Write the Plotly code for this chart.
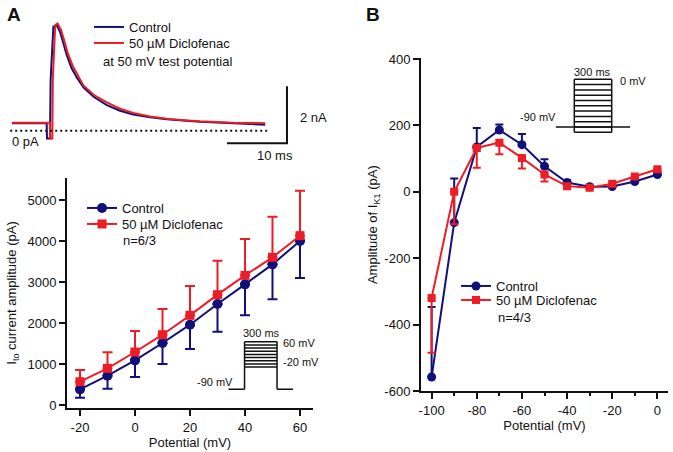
import plotly.graph_objects as go

W, H = 673, 452
FONT = "Liberation Sans, Arial, Helvetica, sans-serif"
BLUE = "#10107a"
RED = "#ee1c24"
INK = "#111111"

# ---------------- data ----------------
# Panel A top: example current traces at +50 mV (time in ms, current in nA)
trace_t_ctrl = [0, 5.78, 5.83, 6.33, 6.44, 6.9, 7.44, 8.0, 8.56, 9.11, 9.94, 10.8, 11.9, 13.6,
                15.8, 18.0, 20.2, 23.0, 25.8, 28.6, 31.3, 36.9, 42.2]
trace_i_ctrl = [0.26, 0.26, -0.27, -0.27, 1.8, 3.65, 3.71, 3.47, 3.07, 2.66, 2.19, 1.87, 1.52, 1.19,
                0.90, 0.70, 0.57, 0.47, 0.40, 0.35, 0.31, 0.26, 0.21]
trace_t_dic = [0, 6.3, 6.36, 6.72, 6.8, 7.2, 7.6, 8.15, 8.7, 9.25, 10.1, 10.9, 11.9, 13.6,
               15.8, 18.0, 20.2, 23.0, 25.8, 28.6, 31.3, 36.9, 42.2]
trace_i_dic = [0.28, 0.28, -0.27, -0.27, 1.8, 3.7, 3.76, 3.55, 3.16, 2.75, 2.28, 1.95, 1.59, 1.26,
               0.99, 0.77, 0.62, 0.50, 0.42, 0.37, 0.33, 0.28, 0.26]

# Panel A bottom: Ito amplitude vs potential
ito_v = [-20, -10, 0, 10, 20, 30, 40, 50, 60]
ito_ctrl = [382, 715, 1089, 1512, 1959, 2463, 2943, 3431, 4000]
ito_ctrl_err = [203, 317, 406, 512, 593, 674, 756, 854, 902]
ito_dic = [569, 894, 1293, 1715, 2187, 2691, 3163, 3602, 4130]
ito_dic_err = [285, 391, 512, 626, 715, 829, 886, 991, 1098]

# Panel B: IK1 amplitude vs potential
ik1_v = [-100, -90, -80, -70, -60, -50, -40, -30, -20, -10, 0]
ik1_ctrl = [-558, -93, 135, 186, 142, 77, 28, 15, 16, 31, 52]
ik1_ctrl_err = [211, 133, 57, 17, 32, 21, 7, 5, 5, 5, 5]
ik1_dic = [-320, 0, 132, 148, 102, 52, 17, 12, 24, 46, 68]
ik1_dic_err = [165, 98, 60, 35, 32, 21, 7, 5, 5, 5, 5]

# tick labels
itoA_xticks = [-20, 0, 20, 40, 60]
itoA_xlabels = ["-20", "0", "20", "40", "60"]
itoA_yticks = [0, 1000, 2000, 3000, 4000, 5000]
ik1_xticks = [-100, -80, -60, -40, -20, 0]
ik1_xlabels = ["-100", "-80", "-60", "-40", "-20", "0"]
ik1_xminor = [-90, -70, -50, -30, -10]
ik1_yticks = [-600, -400, -200, 0, 200, 400]
ik1_ylabels = ["-600", "-400", "-200", "0", "200", "400"]

# Voltage protocols (ms, mV)
protoA_levels = [-20, -10, 0, 10, 20, 30, 40, 50, 60]
protoB_levels = [-100, -90, -80, -70, -60, -50, -40, -30, -20, -10, 0]
hold_mV = -90
step_ms = 300
pre_ms = 150

# scale bar for the traces
bar_ms, bar_nA = 10, 2


def px(x):
    return x / W


def py(y):
    return 1 - y / H


fig = go.Figure()

# ---------- Panel A top: traces ----------
fig.add_trace(go.Scatter(x=trace_t_ctrl, y=trace_i_ctrl, mode="lines", name="Control",
                         line=dict(color=BLUE, width=2), xaxis="x3", yaxis="y3", legend="legend3"))
fig.add_trace(go.Scatter(x=trace_t_dic, y=trace_i_dic, mode="lines", name="50 µM Diclofenac",
                         line=dict(color=RED, width=2), xaxis="x3", yaxis="y3", legend="legend4"))
# zero current dotted line
fig.add_trace(go.Scatter(x=[trace_t_ctrl[0] - 0.3, trace_t_ctrl[-1] + 0.5], y=[0, 0], mode="lines",
                         line=dict(color=INK, width=2, dash="2px,3px"), showlegend=False,
                         xaxis="x3", yaxis="y3", hoverinfo="skip"))
# scale bar
bx0 = 45.83
by0 = -0.44
fig.add_trace(go.Scatter(x=[bx0 - bar_ms, bx0, bx0], y=[by0, by0, by0 + bar_nA], mode="lines",
                         line=dict(color=INK, width=2), showlegend=False,
                         xaxis="x3", yaxis="y3", hoverinfo="skip"))

# ---------- Panel A bottom ----------
fig.add_trace(go.Scatter(
    x=ito_v, y=ito_ctrl, mode="lines+markers", name="Control",
    line=dict(color=BLUE, width=2), marker=dict(symbol="circle", size=10, color=BLUE),
    error_y=dict(type="data", symmetric=False, array=[0] * len(ito_v), arrayminus=ito_ctrl_err,
                 color=BLUE, thickness=2, width=5),
    xaxis="x", yaxis="y", legend="legend"))
fig.add_trace(go.Scatter(
    x=ito_v, y=ito_dic, mode="lines+markers", name="50 µM Diclofenac",
    line=dict(color=RED, width=2), marker=dict(symbol="square", size=9, color=RED),
    error_y=dict(type="data", symmetric=False, array=ito_dic_err, arrayminus=[0] * len(ito_v),
                 color=RED, thickness=2, width=5),
    xaxis="x", yaxis="y", legend="legend2"))

# ---------- Panel B ----------
fig.add_trace(go.Scatter(
    x=ik1_v, y=ik1_ctrl, mode="lines+markers", name="Control",
    line=dict(color=BLUE, width=2), marker=dict(symbol="circle", size=9, color=BLUE),
    error_y=dict(type="data", symmetric=False, array=ik1_ctrl_err, arrayminus=[0] * len(ik1_v),
                 color=BLUE, thickness=2, width=4),
    xaxis="x2", yaxis="y2", legend="legend5"))
fig.add_trace(go.Scatter(
    x=ik1_v, y=ik1_dic, mode="lines+markers", name="50 µM Diclofenac",
    line=dict(color=RED, width=2), marker=dict(symbol="square", size=8, color=RED),
    error_y=dict(type="data", symmetric=False, array=[0] * len(ik1_v), arrayminus=ik1_dic_err,
                 color=RED, thickness=2, width=4),
    xaxis="x2", yaxis="y2", legend="legend6"))


# ---------- Protocol insets ----------
def add_protocol(levels, xa, ya, hold_through):
    xs, ys = [], []
    for lv in levels:
        xs += [0, step_ms, None]
        ys += [lv, lv, None]
    top = max(levels)
    bottom = min(min(levels), hold_mV)
    xs += [0, 0, None, step_ms, step_ms, None]
    ys += [bottom, top, None, bottom, top, None]
    if hold_through:
        xs += [-pre_ms, step_ms + pre_ms]
        ys += [hold_mV, hold_mV]
    else:
        xs += [-pre_ms, 0, None, step_ms, step_ms + pre_ms]
        ys += [hold_mV, hold_mV, None, hold_mV, hold_mV]
    fig.add_trace(go.Scatter(x=xs, y=ys, mode="lines", line=dict(color=INK, width=1.5),
                             showlegend=False, xaxis=xa, yaxis=ya, hoverinfo="skip"))


add_protocol(protoA_levels, "x4", "y4", False)
add_protocol(protoB_levels, "x5", "y5", True)

# ---------- axes ----------
tickfont = dict(family=FONT, size=13, color=INK)
common = dict(showgrid=False, zeroline=False, showline=True, linecolor=INK, linewidth=2,
              ticks="outside", ticklen=6, tickwidth=2, tickcolor=INK, tickfont=tickfont,
              automargin=False)
hidden = dict(visible=False, showgrid=False, zeroline=False)

fig.update_layout(
    width=W, height=H,
    margin=dict(l=0, r=0, t=0, b=0, pad=0, autoexpand=False),
    paper_bgcolor="white", plot_bgcolor="rgba(0,0,0,0)",
    font=dict(family=FONT, size=13, color=INK),
    xaxis=dict(domain=[px(67), px(313)], range=[-24.73, 64.73], tickmode="array",
               tickvals=itoA_xticks, ticktext=itoA_xlabels,
               title=dict(text="Potential (mV)", font=dict(size=13), standoff=2),
               anchor="y", **common),
    yaxis=dict(domain=[py(408), py(178)], range=[-73, 5537], tickmode="array",
               tickvals=itoA_yticks, ticktext=[str(v) for v in itoA_yticks],
               title=dict(text="I<sub>to</sub> current amplitude (pA)", font=dict(size=13), standoff=8),
               anchor="x", **common),
    xaxis2=dict(domain=[px(421), px(668)], range=[-104.7, 4.7], tickmode="array",
                tickvals=ik1_xticks, ticktext=ik1_xlabels,
                minor=dict(tickvals=ik1_xminor, ticklen=3, tickwidth=2, tickcolor=INK,
                           ticks="outside"),
                title=dict(text="Potential (mV)", font=dict(size=13), standoff=2),
                anchor="y2", **common),
    yaxis2=dict(domain=[py(391), py(58.3)], range=[-600, 402], tickmode="array",
                tickvals=ik1_yticks, ticktext=ik1_ylabels,
                title=dict(text="Amplitude of I<sub>K1</sub> (pA)", font=dict(size=13), standoff=4),
                anchor="x2", **common),
    xaxis3=dict(domain=[px(10), px(292)], range=[-0.333, 46.667], anchor="y3", **hidden),
    yaxis3=dict(domain=[py(160), py(20)], range=[-1.028, 3.884], anchor="x3", **hidden),
    xaxis4=dict(domain=[px(228.3), px(293.3)], range=[-150, 450], anchor="y4", **hidden),
    yaxis4=dict(domain=[py(395), py(335)], range=[-108, 81.3], anchor="x4", **hidden),
    xaxis5=dict(domain=[px(555.6), px(630.4)], range=[-150, 450], anchor="y5", **hidden),
    yaxis5=dict(domain=[py(140), py(70)], range=[-114.5, 17.5], anchor="x5", **hidden),
)

leg = dict(bgcolor="rgba(0,0,0,0)", borderwidth=0, xanchor="left", yanchor="middle",
           font=dict(family=FONT, size=13, color=INK), itemwidth=30)
fig.update_layout(
    legend=dict(x=px(82), y=py(208), **leg),
    legend2=dict(x=px(82), y=py(224), **leg),
    legend3=dict(x=px(89), y=py(27), **leg),
    legend4=dict(x=px(89), y=py(43), **leg),
    legend5=dict(x=px(456), y=py(286), **leg),
    legend6=dict(x=px(456), y=py(300), **leg),
)


def ann(text, x, y, xanchor="left", size=13, bold=False):
    fig.add_annotation(text=f"<b>{text}</b>" if bold else text, x=px(x), y=py(y), xref="paper",
                       yref="paper", xanchor=xanchor, yanchor="middle", showarrow=False,
                       font=dict(family=FONT, size=size, color=INK))


ann("A", 5, 14, size=19, bold=True)
ann("B", 364, 14, size=19, bold=True)
ann("at 50 mV test potential", 101, 61.7)
ann("0 pA", 10, 142)
ann("2 nA", 298, 117)
ann("10 ms", 275, 155, xanchor="center")
ann("n=6/3", 121, 240)
ann("300 ms", 261, 333, xanchor="center", size=11)
ann("60 mV", 281, 343, size=11)
ann("-20 mV", 281, 362, size=11)
ann("-90 mV", 235, 382, xanchor="right", size=11)
ann("n=4/3", 496, 317)
ann("300 ms", 592, 72, xanchor="center", size=11)
ann("0 mV", 618, 81, size=11)
ann("-90 mV", 558, 117, xanchor="right", size=11)

fig.write_html("out.html", config={"displayModeBar": False},
               post_script="document.body.style.margin='0';document.body.style.padding='0';"
                           "document.body.style.overflow='hidden';")
